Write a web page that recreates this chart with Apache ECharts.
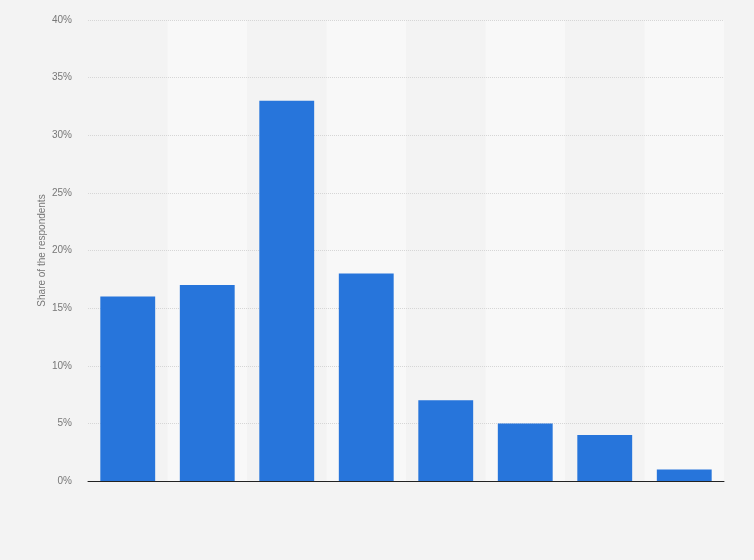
<!DOCTYPE html>
<html>
<head>
<meta charset="utf-8">
<script src="https://cdn.jsdelivr.net/npm/echarts@6/dist/echarts.min.js"></script>
<style>
html,body{margin:0;padding:0;background:#f3f3f3;}
#chart{width:754px;height:560px;}
</style>
</head>
<body>
<div id="chart"></div>
<script>
var categories = ['1','2','3','4','5','6','7','8'];
var shareValues = [16, 17, 33, 18, 7, 5, 4, 1];
var yTickMax = 40;
var yTickStep = 5;

var chart = echarts.init(document.getElementById('chart'));
chart.setOption({
  backgroundColor: '#f3f3f3',
  animation: false,
  grid: {left: 88, right: 30, top: 20, bottom: 79},
  xAxis: {
    type: 'category',
    data: categories,
    z: 0,
    axisLine: {show: true, lineStyle: {color: '#222', width: 1}},
    axisTick: {show: false},
    axisLabel: {show: false},
    splitArea: {show: true, areaStyle: {color: ['rgba(0,0,0,0)', '#f8f8f8']}}
  },
  yAxis: {
    type: 'value',
    z: 1,
    min: 0,
    max: yTickMax,
    interval: yTickStep,
    name: 'Share of the respondents',
    nameLocation: 'middle',
    nameGap: 41,
    nameMoveOverlap: false,
    nameTextStyle: {color: '#777', fontSize: 10, fontFamily: 'Arial, Liberation Sans, sans-serif'},
    axisLine: {show: false},
    axisTick: {show: false},
    axisLabel: {formatter: '{value}%', color: '#777', fontSize: 10, margin: 16, fontFamily: 'Arial, Liberation Sans, sans-serif'},
    splitLine: {show: true, showMinLine: false, lineStyle: {color: '#d6d6d6', type: [1, 1]}}
  },
  series: [{
    type: 'bar',
    z: 2,
    data: shareValues,
    barCategoryGap: '31%',
    itemStyle: {color: '#2775db'}
  }]
});
</script>
</body>
</html>
